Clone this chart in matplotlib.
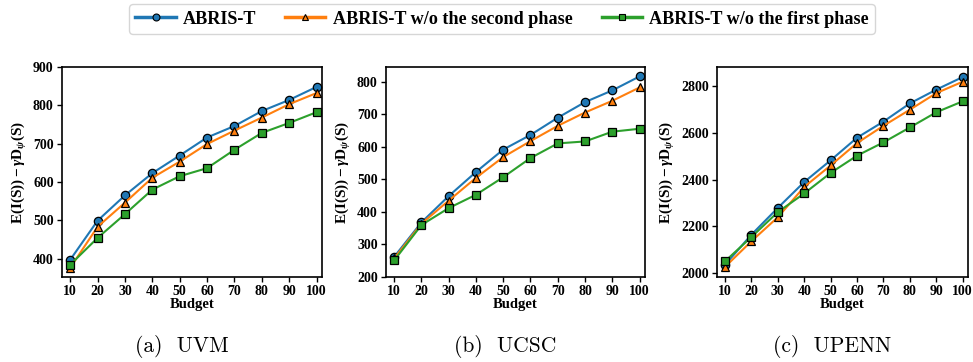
import matplotlib
matplotlib.use("Agg")
import matplotlib.pyplot as plt
from matplotlib.lines import Line2D

budget = [10, 20, 30, 40, 50, 60, 70, 80, 90, 100]

uvm_full = [397, 499, 565, 623, 669, 716, 746, 785, 814, 848]
uvm_no2 = [376, 483, 546, 611, 653, 699, 734, 768, 803, 832]
uvm_no1 = [384, 454, 516, 580, 615, 636, 684, 728, 754, 782]

ucsc_full = [262, 368, 449, 523, 592, 637, 690, 738, 774, 817]
ucsc_no2 = [257, 364, 435, 505, 569, 618, 665, 706, 742, 783]
ucsc_no1 = [251, 360, 412, 453, 507, 566, 611, 617, 647, 656]

upenn_full = [2035, 2164, 2279, 2390, 2483, 2580, 2649, 2727, 2786, 2840]
upenn_no2 = [2026, 2136, 2239, 2369, 2461, 2557, 2631, 2700, 2771, 2820]
upenn_no1 = [2050, 2154, 2261, 2341, 2429, 2503, 2560, 2624, 2689, 2736]

series_names = ["ABRIS-T", "ABRIS-T w/o the second phase", "ABRIS-T w/o the first phase"]
captions = ["(a)  UVM", "(b)  UCSC", "(c)  UPENN"]

plt.rcParams['font.family'] = ['Liberation Serif', 'DejaVu Serif']
plt.rcParams['font.weight'] = 'bold'
plt.rcParams['mathtext.fontset'] = 'custom'
plt.rcParams['mathtext.rm'] = 'Liberation Serif:bold'
plt.rcParams['mathtext.bf'] = 'Liberation Serif:bold'
plt.rcParams['mathtext.it'] = 'Liberation Serif:italic:bold'

colors = ['#1f77b4', '#ff7f0e', '#2ca02c']
markers = ['o', '^', 's']

fig = plt.figure(figsize=(9.73, 3.62), dpi=100)
W, H = 973, 362
boxes = [(62, 322), (386, 645), (717, 968)]
top, bottom = 67, 277
ylims = [(352, 900), (200, 846), (1983, 2883)]
yticks = [[400, 500, 600, 700, 800, 900], [200, 300, 400, 500, 600, 700, 800],
          [2000, 2200, 2400, 2600, 2800]]
data = [(uvm_full, uvm_no2, uvm_no1), (ucsc_full, ucsc_no2, ucsc_no1),
        (upenn_full, upenn_no2, upenn_no1)]
ylabel = r'$\mathbf{E(I(S))} - \mathit{\gamma}\mathbf{D}_{\mathit{\psi}}\mathbf{(S)}$'

for i, (l, r) in enumerate(boxes):
    ax = fig.add_axes([l / W, 1 - bottom / H, (r - l) / W, (bottom - top) / H])
    for j, ys in enumerate(data[i]):
        ax.plot(budget, ys, color=colors[j], marker=markers[j], markersize=6,
                markeredgecolor='black', markeredgewidth=0.9, linewidth=1.5,
                label=series_names[j])
    ax.set_xlim(7, 102)
    ax.set_xticks(budget)
    ax.set_ylim(*ylims[i])
    ax.set_yticks(yticks[i])
    ax.tick_params(labelsize=10, width=1, length=3.5, color='black', pad=2.5)
    for lab in ax.get_xticklabels() + ax.get_yticklabels():
        lab.set_fontweight('bold')
    for s in ax.spines.values():
        s.set_linewidth(1.2)
    ax.set_xlabel('Budget', fontsize=10.5, fontweight='bold', labelpad=0)
    ax.set_ylabel(ylabel, fontsize=11, labelpad=3)
    cx = (l + r) / 2 - 10
    fig.text(cx / W, 1 - 347 / H, captions[i], ha='center', va='center',
             fontsize=15.5, family='cmr10', fontweight='normal')

handles = [Line2D([], [], color=colors[j], marker=markers[j], markersize=5,
                  markeredgecolor='black', markeredgewidth=0.8, linewidth=2.5)
           for j in range(3)]
fig.legend(handles, series_names, loc='center', bbox_to_anchor=(502 / W, 1 - 19 / H),
           ncol=3, frameon=True, handlelength=2.2, columnspacing=1.6,
           handletextpad=0.4, borderpad=0.35, prop={'weight': 'bold', 'size': 13.1})

fig.savefig('out.png', dpi=100)
